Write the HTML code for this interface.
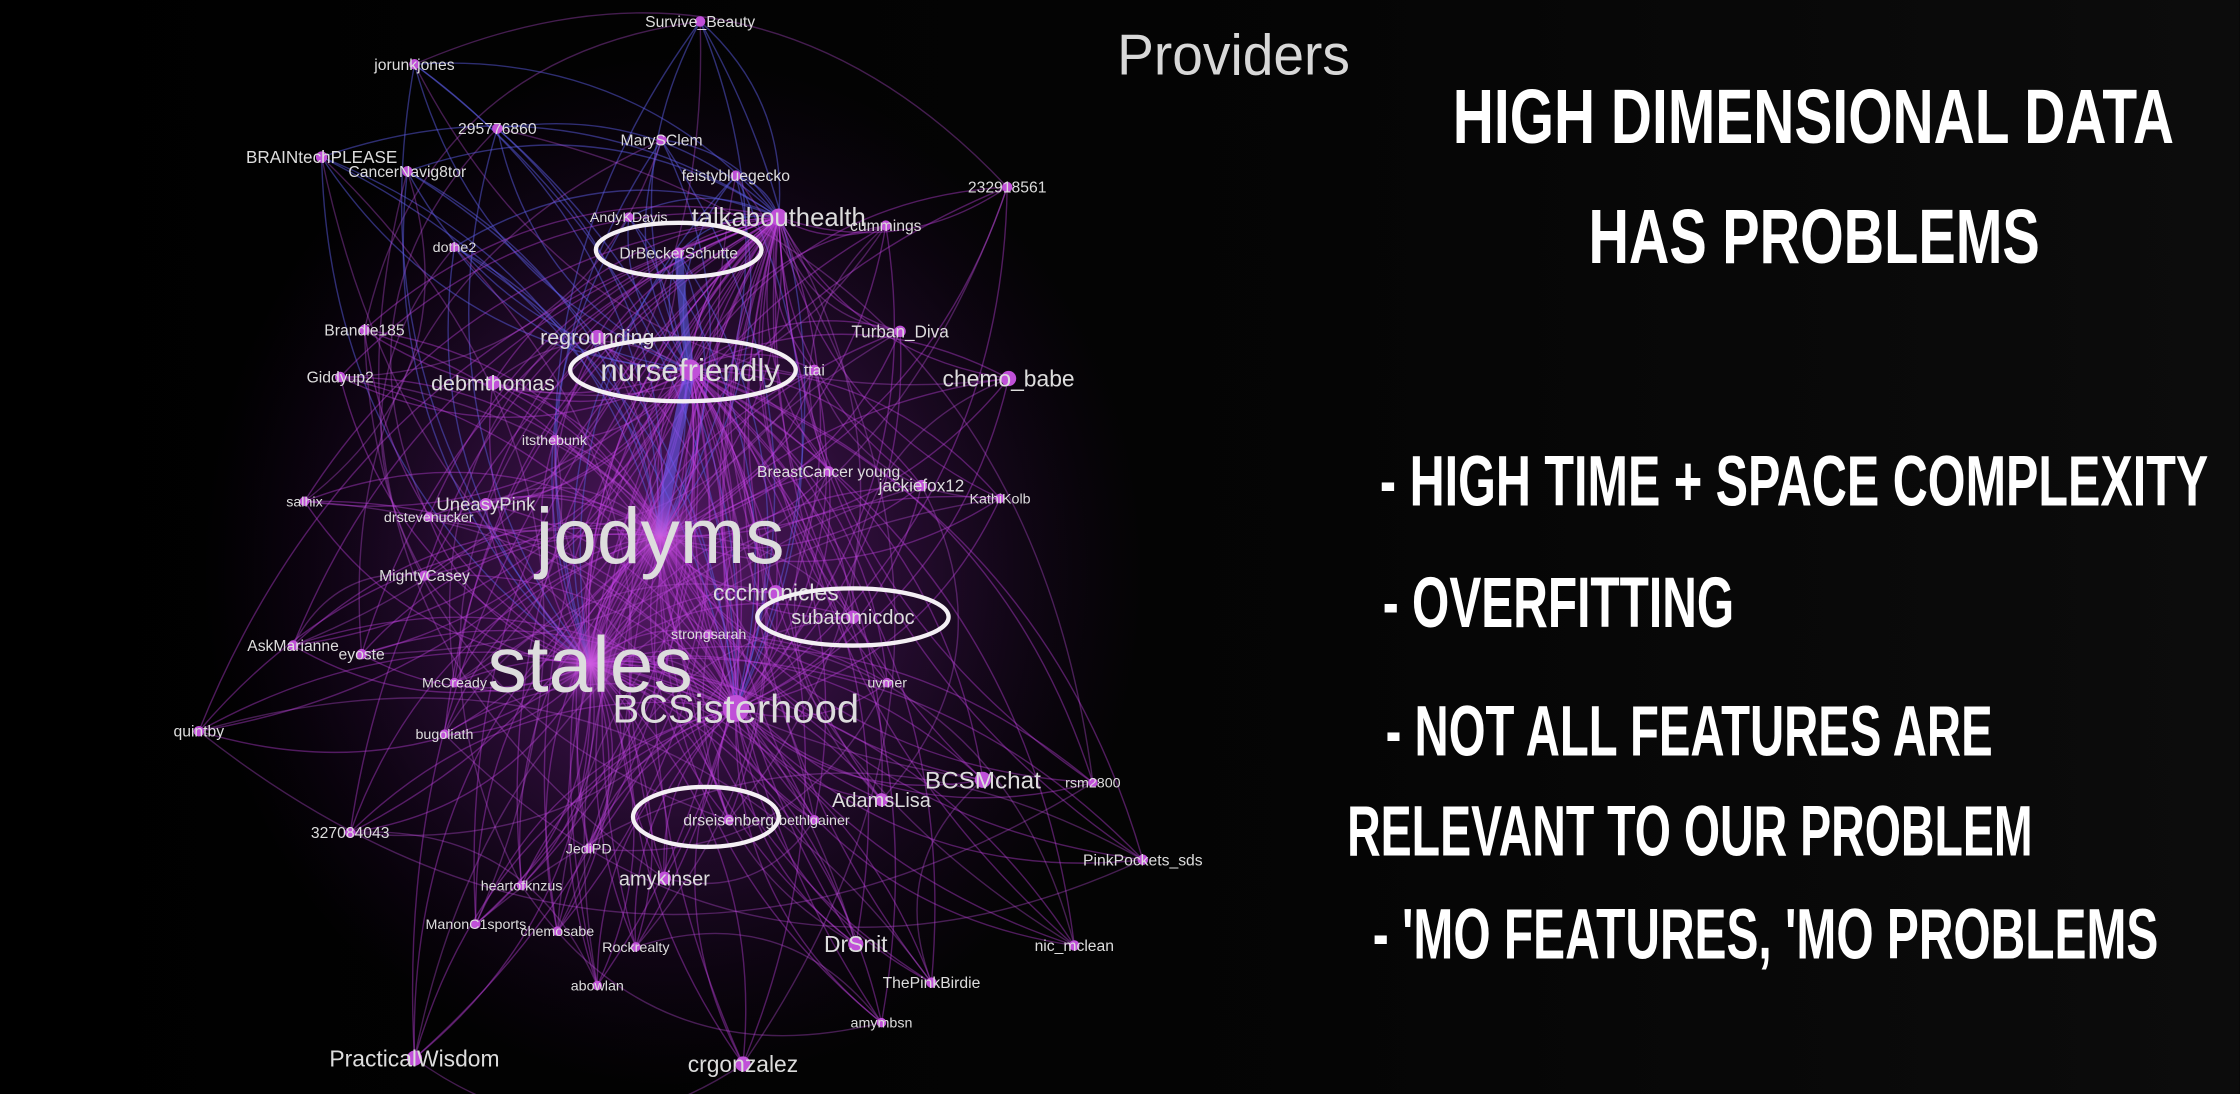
<!DOCTYPE html>
<html><head><meta charset="utf-8">
<style>
html,body{margin:0;padding:0;background:#000;width:2240px;height:1094px;overflow:hidden}
svg{display:block}
.h{font-family:"Liberation Sans Narrow","Liberation Sans",sans-serif;font-weight:bold;fill:#fff}
.lbl{font-family:"Liberation Sans",sans-serif;fill:#ddd}
</style></head>
<body>
<svg id="scene" width="2240" height="1094" viewBox="0 0 1568 766" xmlns="http://www.w3.org/2000/svg">
<defs>
<radialGradient id="glow" cx="50%" cy="50%" r="50%">
<stop offset="0%" stop-color="#a030c0" stop-opacity="0.55"/>
<stop offset="60%" stop-color="#7a1fa0" stop-opacity="0.2"/>
<stop offset="100%" stop-color="#400060" stop-opacity="0"/>
</radialGradient>
<radialGradient id="hub" cx="50%" cy="50%" r="50%">
<stop offset="0%" stop-color="#d060e0" stop-opacity="0.9"/>
<stop offset="100%" stop-color="#a030c0" stop-opacity="0"/>
</radialGradient>
<linearGradient id="bg" x1="0" x2="1">
<stop offset="0" stop-color="#000"/><stop offset="0.6" stop-color="#050505"/><stop offset="1" stop-color="#0c0c0c"/>
</linearGradient>
</defs>
<rect width="1568" height="766" fill="url(#bg)"/>
<ellipse cx="470" cy="400" rx="330" ry="360" fill="url(#glow)"/>
<g id="edges"></g>
<g id="nodes"></g>
<g id="labels"></g>
<g fill="none" stroke="#f4f0f4" stroke-width="3">
<ellipse cx="475" cy="175" rx="58" ry="19"/>
<ellipse cx="478" cy="259" rx="79" ry="22"/>
<ellipse cx="597" cy="432" rx="67" ry="20"/>
<ellipse cx="494" cy="572" rx="51" ry="21"/>
</g>
<text x="782" y="52" font-family="Liberation Sans, sans-serif" font-size="40" fill="#d8d8d8" textLength="163" lengthAdjust="spacingAndGlyphs">Providers</text>
<text class="h" x="1017" y="100" font-size="54" textLength="505" lengthAdjust="spacingAndGlyphs">HIGH DIMENSIONAL DATA</text>
<text class="h" x="1112" y="184" font-size="54" textLength="316" lengthAdjust="spacingAndGlyphs">HAS PROBLEMS</text>
<text class="h" x="966" y="354" font-size="50" textLength="580" lengthAdjust="spacingAndGlyphs">- HIGH TIME + SPACE COMPLEXITY</text>
<text class="h" x="968" y="439" font-size="50" textLength="246" lengthAdjust="spacingAndGlyphs">- OVERFITTING</text>
<text class="h" x="970" y="529" font-size="50" textLength="425" lengthAdjust="spacingAndGlyphs">- NOT ALL FEATURES ARE</text>
<text class="h" x="943" y="599" font-size="50" textLength="480" lengthAdjust="spacingAndGlyphs">RELEVANT TO OUR PROBLEM</text>
<text class="h" x="961" y="671" font-size="50" textLength="550" lengthAdjust="spacingAndGlyphs">- 'MO FEATURES, 'MO PROBLEMS</text>
</svg>
<script>
const names=["Survive_Beauty","jorunkjones","295776860","MarySClem","BRAINtechPLEASE","CancerNavig8tor","feistybluegecko","232918561","AndyKDavis","talkabouthealth","cummings","dothe2","DrBeckerSchutte","Brandie185","regrounding","Turban_Diva","Giddyup2","debmthomas","nursefriendly","ttai","chemo_babe","itsthebunk","BreastCancer young","jackiefox12","KathiKolb","salhix","UneasyPink","drstevenucker","jodyms","MightyCasey","ccchronicles","subatomicdoc","strongsarah","AskMarianne","eyoste","stales","McCready","uvmer","BCSisterhood","quintby","bugoliath","BCSMchat","rsm2800","drseisenberg","bethlgainer","AdamsLisa","327084043","JediPD","amykinser","PinkPockets_sds","heartofknzus","ManonC1sports","chemosabe","Rockrealty","DrSnit","nic_mclean","ThePinkBirdie","abowlan","amymbsn","PracticalWisdom","crgonzalez"];
const xs=[490,290,348,463,225,285,515,705,440,545,620,318,475,255,418,630,238,345,483,570,706,388,580,645,700,213,340,300,462,297,543,597,496,205,253,413,318,621,515,139,311,688,765,510,570,617,245,412,465,800,365,333,390,445,599,752,652,418,617,290,520];
const ys=[15,45,90,98,110,120,123,131,152,152,158,173,177,231,236,232,264,268,259,259,265,308,330,340,349,351,353,362,375,403,415,432,444,452,458,465,478,478,496,512,514,546,548,574,574,560,583,594,615,602,620,647,652,663,661,662,688,690,716,741,745];
const sizes=[11,11,11,11,12,11,11,11,10,18,11,10,11,11,15,12,11,15,22,11,16,10,11,12,10,10,13,10,55,11,16,14,10,11,11,55,10,10,28,11,10,17,10,11,10,14,11,10,14,11,10,10,10,10,16,11,11,10,10,16,16];
const hubs=[28,35,38,18,9];
const NS="http://www.w3.org/2000/svg";
const eg=document.getElementById('edges'),ng=document.getElementById('nodes'),lg=document.getElementById('labels');
function curve(a,b,k,col,op,w){
  const p=document.createElementNS(NS,'path');
  const mx=(xs[a]+xs[b])/2,my=(ys[a]+ys[b])/2,dx=xs[b]-xs[a],dy=ys[b]-ys[a];
  const cx=mx-dy*k,cy=my+dx*k;
  p.setAttribute('d',`M${xs[a]},${ys[a]} Q${cx},${cy} ${xs[b]},${ys[b]}`);
  p.setAttribute('fill','none');p.setAttribute('stroke',col);p.setAttribute('stroke-opacity',op);p.setAttribute('stroke-width',w);
  
  
  eg.appendChild(p);
}
for(let i=0;i<names.length;i++){
  hubs.forEach((h,j)=>{ if(h!==i){
    const blue=ys[i]<180&&xs[i]<520;
    curve(i,h,0.25*(j%2?1:-1),blue?'#5a5ae0':'#c040e0',blue?0.5:0.4,1);
  }});
  const o=(i*7+13)%names.length;
  if(o!==i) curve(i,o,0.35,'#c050e0',0.35,1);
}
curve(18,28,0.02,'#6a5af0',0.6,8);curve(12,18,0.02,'#5a5ae0',0.6,6);
for(let i=0;i<names.length;i++){
  const c=document.createElementNS(NS,'circle');
  c.setAttribute('cx',xs[i]);c.setAttribute('cy',ys[i]);
  c.setAttribute('r',sizes[i]>40?30:Math.max(3,sizes[i]/3));
  c.setAttribute('fill',sizes[i]>40?'url(#hub)':'#c050d8');
  
  
  ng.appendChild(c);
  const t=document.createElementNS(NS,'text');
  t.setAttribute('x',xs[i]);t.setAttribute('y',ys[i]+sizes[i]*0.35);
  t.setAttribute('text-anchor','middle');t.setAttribute('font-size',sizes[i]);
  t.setAttribute('class','lbl');
  if(sizes[i]>40) t.setAttribute('fill','#e8e0ea');
  t.textContent=names[i];
  
  
  lg.appendChild(t);
}
</script>
</body></html>
